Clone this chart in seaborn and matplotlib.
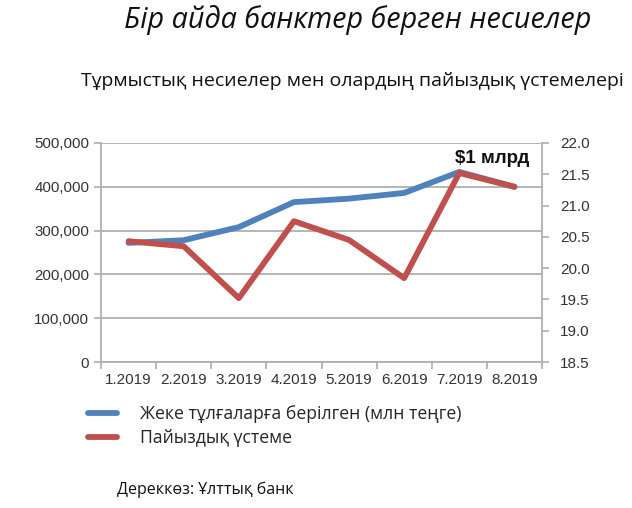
import matplotlib
matplotlib.use("Agg")
import matplotlib.pyplot as plt
import seaborn as sns
import pandas as pd
from matplotlib.lines import Line2D

months = ["1.2019", "2.2019", "3.2019", "4.2019", "5.2019", "6.2019", "7.2019", "8.2019"]
loans = [272000, 278000, 308000, 365000, 373000, 386000, 434000, 400000]
margin = [20.43, 20.35, 19.52, 20.75, 20.45, 19.84, 21.52, 21.30]
left_ticks = [0, 100000, 200000, 300000, 400000, 500000]
right_ticks = [18.5, 19.0, 19.5, 20.0, 20.5, 21.0, 21.5, 22.0]

title = "Бір айда банктер берген несиелер"
subtitle = "Тұрмыстық несиелер мен олардың пайыздық үстемелері"
label_loans = "Жеке тұлғаларға берілген (млн теңге)"
label_margin = "Пайыздық үстеме"
source = "Дереккөз: Ұлттық банк"
note = "$1 млрд"

sns.set_theme(style="white")
plt.rcParams['font.family'] = ['Liberation Sans', 'DejaVu Sans']

df = pd.DataFrame({"month": months, "loans": loans, "margin": margin})
df["x"] = range(len(months))

blue = "#4F81BD"
red = "#C0504D"
grid = "#b0b0b0"

fig = plt.figure(figsize=(6.32, 5.08), dpi=100)
ax = fig.add_axes([101/632, 1 - 362/508, 441/632, 219/508])

sns.lineplot(data=df, x="x", y="loans", ax=ax, color=blue, lw=4.2, legend=False)
ax.set_ylim(0, 500000)
ax.set_xlim(-0.5, len(months) - 0.5)
ax.set_yticks(left_ticks)
ax.set_yticklabels([f"{v:,}" for v in left_ticks], fontsize=10.8, color="#333333")
ax.yaxis.grid(True, color=grid, lw=1.3)
ax.set_axisbelow(True)
ax.set_xlabel("")
ax.set_ylabel("")
ax.set_xticks([i - 0.5 for i in range(len(months) + 1)], minor=False)
ax.set_xticklabels([])
ax.set_xticks(list(range(len(months))), minor=True)
ax.set_xticklabels(months, minor=True, fontsize=11, color="#333333")
ax.tick_params(axis="x", which="major", length=5, color=grid, direction="out", bottom=True)
ax.tick_params(axis="x", which="minor", length=0, pad=8)
ax.tick_params(axis="y", length=5, color=grid, direction="out", left=True)
for s in ["top", "right"]:
    ax.spines[s].set_visible(False)
for s in ["left", "bottom"]:
    ax.spines[s].set_color(grid)
    ax.spines[s].set_linewidth(1.3)

ax2 = ax.twinx()
sns.lineplot(data=df, x="x", y="margin", ax=ax2, color=red, lw=4.2, legend=False)
ax2.set_ylim(18.5, 22.0)
ax2.set_yticks(right_ticks)
ax2.set_yticklabels([f"{v:.1f}" for v in right_ticks], fontsize=11, color="#333333")
ax2.set_ylabel("")
ax2.tick_params(axis="y", length=5, color=grid, direction="out", right=True, pad=8)
for s in ["top", "left", "bottom"]:
    ax2.spines[s].set_visible(False)
ax2.spines["right"].set_color(grid)
ax2.spines["right"].set_linewidth(1.3)
ax2.grid(False)

ax2.text(6.6, 21.75, note, fontsize=13.5, fontweight="bold", ha="center", va="center", color="#111111")

fig.text(358/632, 1 - 20/508, title, fontsize=20.7, style="italic", ha="center", va="center",
         family=["Open Sans", "DejaVu Sans"], color="#111111")
fig.text(352/632, 1 - 81/508, subtitle, fontsize=14, ha="center", va="center",
         family=["Open Sans", "DejaVu Sans"], color="#111111")

handles = [Line2D([0], [0], color=blue, lw=4.2), Line2D([0], [0], color=red, lw=4.2)]
fig.legend(handles, [label_loans, label_margin], loc="upper left",
           bbox_to_anchor=(72/632, 1 - 389/508), frameon=False, handlelength=1.65,
           handletextpad=1.3, labelspacing=0.35,
           prop={"family": ["Open Sans", "DejaVu Sans"], "size": 12.7})

fig.text(117/632, 1 - 490/508, source, fontsize=11.5, ha="left", va="center",
         family=["Open Sans", "DejaVu Sans"], color="#111111")

fig.savefig("out.png", dpi=100)
